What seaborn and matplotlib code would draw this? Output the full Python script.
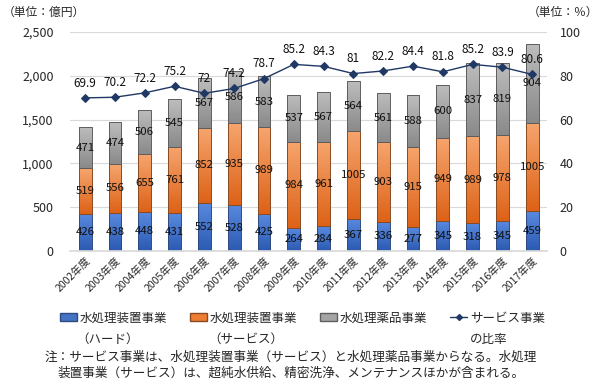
import numpy as np
import pandas as pd
import matplotlib
matplotlib.use("Agg")
import matplotlib.pyplot as plt
import seaborn as sns
from matplotlib.colors import LinearSegmentedColormap
from matplotlib.patches import Patch
from matplotlib.lines import Line2D
from matplotlib.ticker import FuncFormatter

# データ
years = ["2002年度", "2003年度", "2004年度", "2005年度", "2006年度", "2007年度",
         "2008年度", "2009年度", "2010年度", "2011年度", "2012年度", "2013年度",
         "2014年度", "2015年度", "2016年度", "2017年度"]
hard = [426, 438, 448, 431, 552, 528, 425, 264, 284, 367, 336, 277, 345, 318, 345, 459]
service = [519, 556, 655, 761, 852, 935, 989, 984, 961, 1005, 903, 915, 949, 989, 978, 1005]
chem = [471, 474, 506, 545, 567, 586, 583, 537, 567, 564, 561, 588, 600, 837, 819, 904]
ratio = [69.9, 70.2, 72.2, 75.2, 72, 74.2, 78.7, 85.2, 84.3, 81, 82.2, 84.4, 81.8, 85.2, 83.9, 80.6]

series_names = ["水処理装置事業", "水処理装置事業", "水処理薬品事業", "サービス事業"]
series_sub = ["（ハード）", "（サービス）", "", "の比率"]
note = ["注：サービス事業は、水処理装置事業（サービス）と水処理薬品事業からなる。水処理",
        "装置事業（サービス）は、超純水供給、精密洗浄、メンテナンスほかが含まれる。"]

df = pd.DataFrame({"year": years, "hard": hard, "service": service, "chem": chem, "ratio": ratio})
df["base2"] = df["hard"]
df["base3"] = df["hard"] + df["service"]

sns.set_theme(style="white")
plt.rcParams["font.family"] = ["Noto Sans CJK JP", "DejaVu Sans"]
txt = "#262626"

fig = plt.figure(figsize=(6, 3.85), dpi=100)
ax = fig.add_axes([0.117, 0.348, 0.795, 0.569])

# 色 (下: 濃い, 上: 淡い)
grads = [("#2C5AB2", "#5A8AE0"), ("#DD6217", "#F6A56E"), ("#8A8A8A", "#BDBDBD")]
solid = ["#4472C4", "#ED7D31", "#A5A5A5"]
edges = ["#2F4B80", "#8A4A20", "#5E5E5E"]

w = 0.43
sns.barplot(data=df, x="year", y="hard", color=solid[0], width=w, ax=ax)
sns.barplot(data=df, x="year", y="service", bottom=df["base2"], color=solid[1], width=w, ax=ax)
sns.barplot(data=df, x="year", y="chem", bottom=df["base3"], color=solid[2], width=w, ax=ax)

# グラデーション
g = np.linspace(0, 1, 64).reshape(-1, 1)
for cont, (c0, c1), ec in zip(ax.containers, grads, edges):
    cmap = LinearSegmentedColormap.from_list("g", [c0, c1])
    for p in cont.patches:
        x0, y0 = p.get_x(), p.get_y()
        im = ax.imshow(g, extent=[x0, x0 + p.get_width(), y0, y0 + p.get_height()],
                       aspect="auto", origin="lower", cmap=cmap, zorder=1.9)
        im.set_clip_path(p)
        p.set_facecolor("none")
        p.set_edgecolor(ec)
        p.set_linewidth(0.7)
        p.set_zorder(2)
    ax.bar_label(cont, label_type="center", fontsize=8.2, color="#111111", zorder=5)

ax.set_xlim(-0.5, len(years) - 0.5)
ax.set_ylim(0, 2500)
ax.set_yticks(range(0, 2501, 500))
ax.yaxis.set_major_formatter(FuncFormatter(lambda v, _: f"{int(v):,}"))
ax.grid(axis="y", color="#D9D9D9", lw=0.8)
ax.set_axisbelow(True)
ax.set_xlabel("")
ax.set_ylabel("")
for s in ["top", "left", "right"]:
    ax.spines[s].set_visible(False)
ax.spines["bottom"].set_color("#D9D9D9")
ax.tick_params(axis="both", length=0, colors=txt)
ax.tick_params(axis="y", labelsize=9, pad=12)
ax.set_xticks(range(len(years)))
ax.set_xticklabels(years, rotation=45, ha="right", rotation_mode="anchor", fontsize=7.5)

# 比率 (右軸)
ax2 = ax.twinx()
sns.lineplot(x=np.arange(len(years)), y=ratio, ax=ax2, color="#1F3864", lw=1,
             marker="D", markersize=4, markeredgecolor="#1F3864")
ax2.set_ylim(0, 100)
ax2.set_yticks(range(0, 101, 20))
ax2.set_xlim(-0.5, len(years) - 0.5)
for s in ["top", "left", "right", "bottom"]:
    ax2.spines[s].set_visible(False)
ax2.tick_params(axis="y", length=0, labelsize=9, colors=txt, pad=9)
for i, v in enumerate(ratio):
    ax2.annotate(f"{v:g}", (i, v), xytext=(0, 6), textcoords="offset points",
                 ha="center", va="bottom", fontsize=8.5, color="#111111")

# 単位
fig.text(0.005, 0.968, "（単位：億円）", ha="left", va="center", fontsize=8.5, color=txt)
fig.text(0.997, 0.968, "（単位：％）", ha="right", va="center", fontsize=8.5, color=txt)

# 凡例
handles = [Patch(facecolor=solid[0], edgecolor=edges[0]),
           Patch(facecolor=solid[1], edgecolor=edges[1]),
           Patch(facecolor=solid[2], edgecolor=edges[2]),
           Line2D([], [], color="#1F3864", lw=1, marker="D", markersize=3)]
fig.legend(handles, series_names, ncol=4, loc="center", bbox_to_anchor=(0.504, 0.174),
           frameon=False, fontsize=9, handlelength=1.4, handleheight=0.6,
           handletextpad=0.2, columnspacing=1.8, labelcolor=txt)
for xs, s in zip([0.18, 0.41, 0.0, 0.815], series_sub):
    if s:
        fig.text(xs, 0.118, s, ha="center", va="center", fontsize=9, color=txt)

fig.text(0.485, 0.073, note[0], ha="center", va="center", fontsize=9.1, color=txt)
fig.text(0.485, 0.030, note[1], ha="center", va="center", fontsize=9.1, color=txt)

plt.savefig("out.png", dpi=100)
plt.close()
